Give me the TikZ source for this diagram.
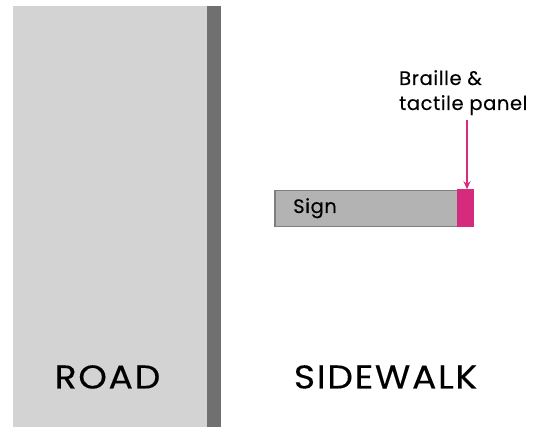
\documentclass[tikz,border=0pt]{standalone}
\usepackage{fontspec}
\setmainfont{Poppins}
\newfontfamily\bigfont[LetterSpace=5,FakeStretch=1.1,FakeBold=0.2]{Poppins}
\newfontfamily\smallfont[LetterSpace=3,FakeBold=0.15]{Poppins}
\usetikzlibrary{arrows.meta}
\definecolor{roadgray}{HTML}{D3D3D3}
\definecolor{curbgray}{HTML}{707070}
\definecolor{signgray}{HTML}{B3B3B3}
\definecolor{signedge}{HTML}{7F7F7F}
\definecolor{panelpink}{HTML}{D62A7F}
\tikzset{
  px/.style={x=1pt,y=-1pt},
  bigtext/.style={font=\bigfont\fontsize{33}{38}\selectfont, anchor=base, inner sep=0pt},
  smalltext/.style={font=\smallfont\fontsize{19.5}{25}\selectfont, inner sep=0pt},
  pointer/.style={draw=panelpink, line width=1.2pt, -{Stealth[length=8pt,width=7pt]}}
}
\begin{document}
\begin{tikzpicture}[px]
\useasboundingbox (0,0) rectangle (533,427);
\fill[white] (0,0) rectangle (533,427);
% road and curb
\fill[roadgray] (13,6) rectangle (207,427);
\fill[curbgray] (207,6) rectangle (221,427);
% sign
\node[draw=signedge, line width=1.5pt, fill=signgray, minimum width=183pt, minimum height=36pt, anchor=north west, inner sep=0pt] (sign) at (274,190) {};
\node[fill=panelpink, minimum width=17pt, minimum height=37.5pt, anchor=north east, inner sep=0pt] (panel) at (474,189.25) {};
\node[smalltext, anchor=base west] (signlbl) at (293,213) {Sign};
% label
\node[smalltext, anchor=base west, align=left] (blbl) at (399,110) {Braille \&\\tactile panel};
\coordinate (arrstart) at (467,120);
\draw[pointer] (arrstart) -- (panel.north -| arrstart);
% area labels
\node[bigtext] (road) at (107.5,388.5) {ROAD};
\node[bigtext] (walk) at (385.5,388.5) {SIDEWALK};
\end{tikzpicture}
\end{document}
